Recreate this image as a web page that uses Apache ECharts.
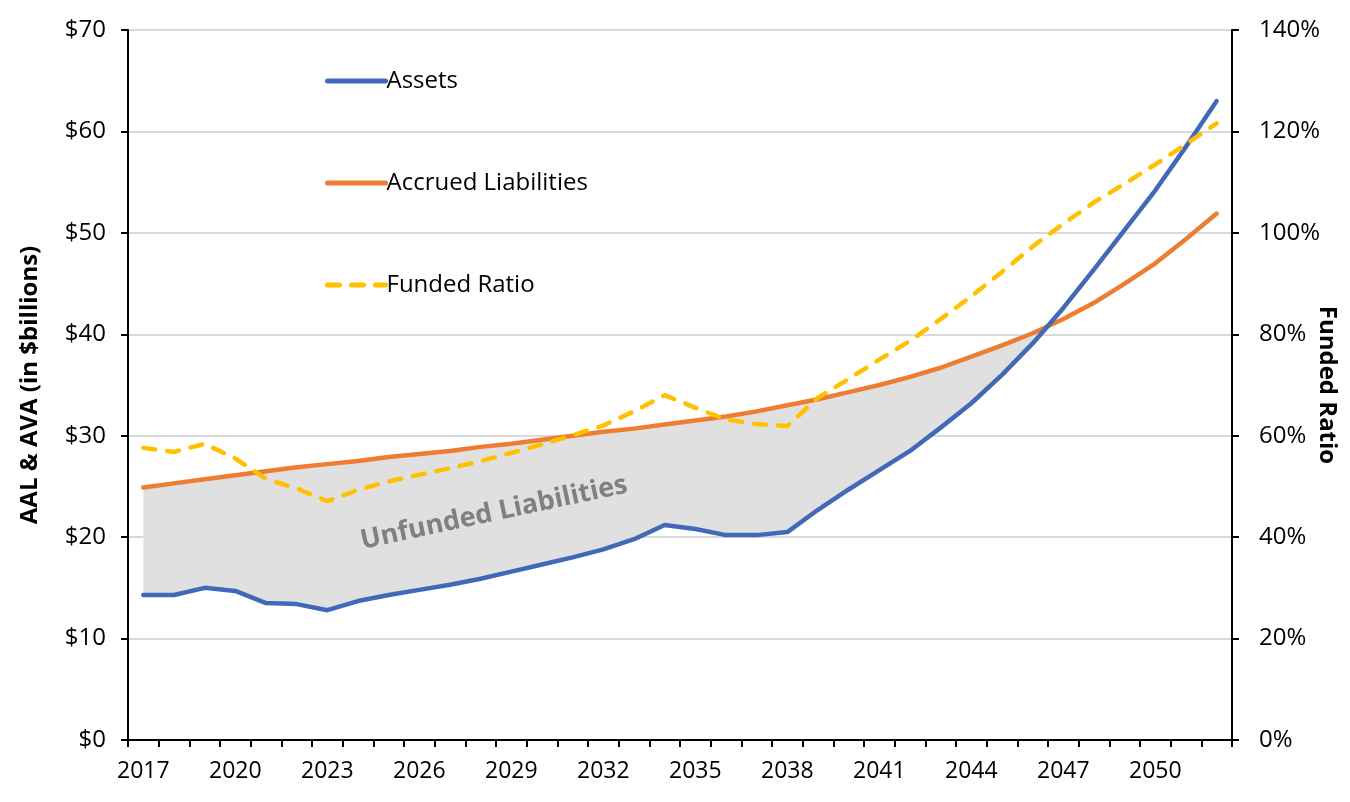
<!DOCTYPE html>
<html>
<head>
<meta charset="utf-8">
<script src="https://cdn.jsdelivr.net/npm/echarts@6/dist/echarts.min.js"></script>
<style>
html,body{margin:0;padding:0;background:#fff;}
#chart{width:1350px;height:802px;}
</style>
</head>
<body>
<div id="chart"></div>
<script>
var years = [];
for (var y = 2017; y <= 2052; y++) years.push(String(y));

var assets = [14.3, 14.3, 15.0, 14.7, 13.5, 13.4, 12.8, 13.7, 14.3, 14.8,
              15.3, 15.9, 16.6, 17.3, 18.0, 18.8, 19.8, 21.2, 20.8, 20.2,
              20.2, 20.5, 22.7, 24.7, 26.6, 28.5, 30.8, 33.2, 36.0, 39.1,
              42.6, 46.4, 50.3, 54.2, 58.5, 63.0];

var liabilities = [24.9, 25.3, 25.7, 26.1, 26.5, 26.9, 27.2, 27.5, 27.9, 28.2,
                   28.5, 28.9, 29.2, 29.6, 30.0, 30.4, 30.7, 31.1, 31.5, 31.9,
                   32.4, 33.0, 33.6, 34.3, 35.0, 35.8, 36.7, 37.8, 38.9, 40.1,
                   41.5, 43.1, 45.0, 47.0, 49.4, 51.9];

var fundedRatio = [57.6, 56.8, 58.4, 55.5, 51.5, 49.6, 47.1, 49.3, 51.0, 52.3,
                   53.6, 55.0, 56.6, 58.3, 60.1, 62.0, 64.8, 68.0, 65.5, 63.2,
                   62.3, 61.9, 67.5, 71.2, 75.0, 78.7, 83.0, 87.5, 92.3, 97.3,
                   101.8, 106.0, 109.7, 113.5, 117.5, 121.6];

var leftTicks = {min: 0, max: 70, interval: 10};
var rightTicks = {min: 0, max: 140, interval: 20};

var FONT = 'Open Sans';
var chart = echarts.init(document.getElementById('chart'));

function fillRender(params, api) {
  if (params.dataIndex !== 0) return null;
  var polys = [];
  var upper = [], lower = [];
  function flush() {
    if (upper.length > 1) {
      polys.push(upper.concat(lower.slice().reverse()));
    }
    upper = []; lower = [];
  }
  for (var i = 0; i < years.length; i++) {
    var inside = liabilities[i] >= assets[i];
    if (inside) {
      upper.push(api.coord([i, liabilities[i]]));
      lower.push(api.coord([i, assets[i]]));
    }
    if (i + 1 < years.length) {
      var d0 = liabilities[i] - assets[i], d1 = liabilities[i + 1] - assets[i + 1];
      if ((d0 >= 0) !== (d1 >= 0)) {
        var t = d0 / (d0 - d1);
        var p0 = api.coord([i, liabilities[i]]), p1 = api.coord([i + 1, liabilities[i + 1]]);
        var c = [p0[0] + (p1[0] - p0[0]) * t, p0[1] + (p1[1] - p0[1]) * t];
        upper.push(c); lower.push(c);
        if (inside) flush();
      }
    }
  }
  flush();
  return {
    type: 'group',
    children: polys.map(function (p) {
      return {type: 'polygon', shape: {points: p}, style: {fill: '#e0e0e0', stroke: null}};
    })
  };
}

var option = {
  backgroundColor: '#ffffff',
  animation: false,
  grid: {left: 128, right: 118, top: 30, bottom: 62, containLabel: false, outerBoundsMode: 'none'},
  legend: {
    data: ['Assets', 'Accrued Liabilities', 'Funded Ratio'],
    orient: 'vertical',
    left: 320,
    top: 64,
    itemWidth: 58,
    itemHeight: 16,
    itemGap: 78,
    itemStyle: {opacity: 0},
    lineStyle: {width: 5},
    textStyle: {fontFamily: FONT, fontSize: 24, color: '#000', padding: [0, 0, 0, -4]}
  },
  xAxis: {
    type: 'category',
    data: years,
    boundaryGap: true,
    axisLine: {lineStyle: {color: '#000', width: 2}},
    axisTick: {show: true, interval: 0, length: 7, lineStyle: {color: '#000', width: 2}},
    axisLabel: {interval: 2, fontFamily: FONT, fontSize: 23, color: '#000', margin: 20},
    splitLine: {show: false}
  },
  yAxis: [{
    type: 'value',
    min: leftTicks.min, max: leftTicks.max, interval: leftTicks.interval,
    name: 'AAL & AVA (in $billions)',
    nameLocation: 'middle',
    nameGap: 86,
    nameRotate: 90,
    nameMoveOverlap: false,
    nameTextStyle: {fontFamily: FONT, fontSize: 24, fontWeight: 'bold', color: '#000'},
    axisLine: {show: true, lineStyle: {color: '#000', width: 2}},
    axisTick: {show: true, length: 7, lineStyle: {color: '#000', width: 2}},
    axisLabel: {formatter: function (v) { return '$' + v; }, fontFamily: FONT, fontSize: 24, color: '#000', margin: 22},
    splitLine: {show: true, lineStyle: {color: '#d9d9d9', width: 2}}
  }, {
    type: 'value',
    position: 'right',
    min: rightTicks.min, max: rightTicks.max, interval: rightTicks.interval,
    name: 'Funded Ratio',
    nameLocation: 'middle',
    nameGap: 83,
    nameRotate: -90,
    nameMoveOverlap: false,
    nameTextStyle: {fontFamily: FONT, fontSize: 24, fontWeight: 'bold', color: '#000'},
    axisLine: {show: true, lineStyle: {color: '#000', width: 2}},
    axisTick: {show: true, length: 7, lineStyle: {color: '#000', width: 2}},
    axisLabel: {formatter: function (v) { return v + '%'; }, fontFamily: FONT, fontSize: 24, color: '#000', margin: 27},
    splitLine: {show: false}
  }],
  series: [{
    name: 'Unfunded',
    type: 'custom',
    xAxisIndex: 0, yAxisIndex: 0,
    silent: true,
    z: 1,
    renderItem: fillRender,
    data: [[0, 0]],
    encode: {x: 0, y: 1}
  }, {
    name: 'Assets',
    type: 'line',
    yAxisIndex: 0,
    data: assets,
    symbol: 'none',
    z: 4,
    lineStyle: {color: '#4169b8', width: 4.5, cap: 'round', join: 'round'},
    itemStyle: {color: '#4169b8'}
  }, {
    name: 'Accrued Liabilities',
    type: 'line',
    yAxisIndex: 0,
    data: liabilities,
    symbol: 'none',
    z: 3,
    lineStyle: {color: '#ed7d31', width: 4.5, cap: 'round', join: 'round'},
    itemStyle: {color: '#ed7d31'}
  }, {
    name: 'Funded Ratio',
    type: 'line',
    yAxisIndex: 1,
    data: fundedRatio,
    symbol: 'none',
    z: 5,
    lineStyle: {color: '#ffc000', width: 4.5, type: [12, 12], cap: 'round', join: 'round'},
    itemStyle: {color: '#ffc000'}
  }],
  graphic: [{
    type: 'text',
    x: 494, y: 513,
    rotation: 0.21,
    style: {
      text: 'Unfunded Liabilities',
      fontFamily: FONT, fontSize: 27, fontWeight: 'bold',
      fill: '#808080', align: 'center', verticalAlign: 'middle'
    },
    z: 10
  }]
};
chart.setOption(option);
</script>
</body>
</html>
